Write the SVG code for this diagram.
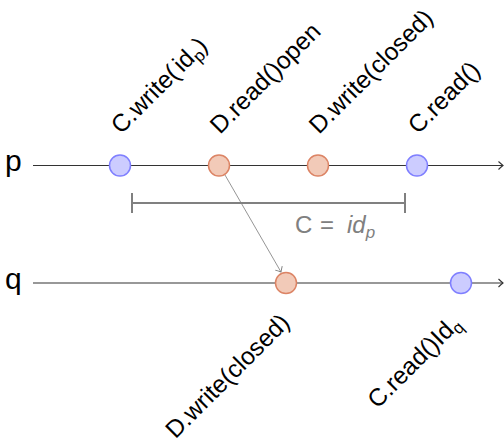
<svg xmlns="http://www.w3.org/2000/svg" width="504" height="442" viewBox="0 0 504 442">
<defs>
<style>
.lbl{font-family:"Liberation Sans",Arial,sans-serif;font-size:24.5px;fill:#000}
.pq{font-family:"Liberation Sans",Arial,sans-serif;font-size:30px;fill:#000}
.sub{font-size:17px}
.tl{stroke:#333;stroke-width:1.1;fill:none}
.blue{fill:#ccccff;stroke:#7f7fff;stroke-width:1.5}
.org{fill:#f2cab8;stroke:#dc8465;stroke-width:1.5}
.gray{stroke:#808080;stroke-width:2;fill:none}
.msg{stroke:#7a7a7a;stroke-width:0.8;fill:none}
</style>
<marker id="ah" viewBox="-6 -5 8 10" markerWidth="8" markerHeight="10" refX="0" refY="0" orient="auto" markerUnits="userSpaceOnUse">
<path d="M-4.5,-4 Q-1.5,-1.2 0,0 Q-1.5,1.2 -4.5,4" fill="none" stroke="#333" stroke-width="1.1"/>
</marker>
<marker id="ahg" viewBox="-6 -5 8 10" markerWidth="8" markerHeight="10" refX="0" refY="0" orient="auto" markerUnits="userSpaceOnUse">
<path d="M-4.5,-4 Q-1.5,-1.2 0,0 Q-1.5,1.2 -4.5,4" fill="none" stroke="#7a7a7a" stroke-width="0.9"/>
</marker>
</defs>
<rect width="504" height="442" fill="#fff"/>
<g id="connectors">
<line class="tl" x1="33" y1="165.5" x2="503" y2="165.5" marker-end="url(#ah)"/>
<line class="tl" x1="33" y1="283" x2="503" y2="283" marker-end="url(#ah)"/>
<line class="msg" x1="225" y1="175" x2="281" y2="272" marker-end="url(#ahg)"/>
</g>
<g id="interval">
<line class="gray" x1="132" y1="203" x2="405" y2="203"/>
<line class="gray" x1="132" y1="193" x2="132" y2="213"/>
<line class="gray" x1="405" y1="193" x2="405" y2="213"/>
<text class="lbl" x="295" y="233" style="fill:#808080;font-size:24px">C<tspan x="320">=</tspan><tspan x="347" font-style="italic">id</tspan><tspan class="sub" font-style="italic" dy="5">p</tspan></text>
</g>
<g id="process-p">
<text class="pq" x="5" y="171">p</text>
</g>
<g id="process-q">
<text class="pq" x="5" y="289">q</text>
</g>
<g id="p1"><circle class="blue" cx="120" cy="165.5" r="10.5"/><text class="lbl" x="0" y="0" transform="matrix(0.7071 -0.7071 0.7071 0.7071 121 135)">C.write(<tspan dx="3">id</tspan><tspan class="sub" dy="5">p</tspan><tspan dy="-5">)</tspan></text></g>
<g id="p2"><circle class="org" cx="219" cy="165.5" r="10.5"/><text class="lbl" x="0" y="0" transform="matrix(0.7071 -0.7071 0.7071 0.7071 220 135)">D.read()open</text></g>
<g id="p3"><circle class="org" cx="318" cy="165.5" r="10.5"/><text class="lbl" x="0" y="0" transform="matrix(0.7071 -0.7071 0.7071 0.7071 319 135)">D.write(closed)</text></g>
<g id="p4"><circle class="blue" cx="417" cy="165.5" r="10.5"/><text class="lbl" x="0" y="0" transform="matrix(0.7071 -0.7071 0.7071 0.7071 418 135)">C.read()</text></g>
<g id="q1"><circle class="org" cx="286" cy="283" r="10.5"/><text class="lbl" x="0" y="0" text-anchor="end" transform="matrix(0.7071 -0.7071 0.7071 0.7071 291 324)">D.write(closed)</text></g>
<g id="q2"><circle class="blue" cx="461" cy="283" r="10.5"/><text class="lbl" x="0" y="0" text-anchor="end" transform="matrix(0.7071 -0.7071 0.7071 0.7071 462 325)">C.read()Id<tspan class="sub" dy="5">q</tspan></text></g>
</svg>
